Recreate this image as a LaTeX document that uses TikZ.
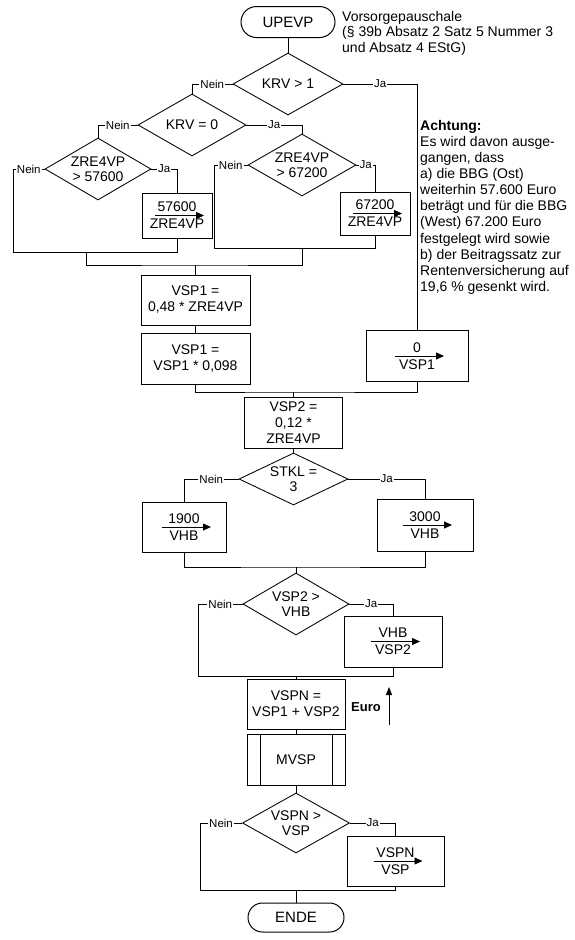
\documentclass[tikz,border=0pt]{standalone}
\usepackage{fontspec}
\setmainfont{Liberation Sans}
\usetikzlibrary{arrows.meta,shapes.geometric,shapes.misc}
\begin{document}
\begin{tikzpicture}[x=1pt,y=-1pt,
  every node/.style={font=\fontsize{14}{16}\selectfont},
  conn/.style={line width=0.85pt},
  proc/.style={draw,line width=1pt,inner sep=0pt,align=center},
  term/.style={draw,rounded rectangle,line width=1pt,inner sep=0pt,font=\fontsize{15}{17}\selectfont},
  dia/.style={draw,diamond,line width=0.85pt,inner sep=0pt},
  dtext/.style={align=center,inner sep=0pt,font=\fontsize{14}{15}\selectfont},
  lab/.style={fill=white,inner sep=1pt,font=\fontsize{11.5}{12}\selectfont},
  flowline/.style={line width=0.85pt,-{Triangle[length=8pt,width=7pt]}},
  note/.style={anchor=north west,inner sep=0pt,align=left}
]
\useasboundingbox (0,0) rectangle (575,940);

% start
\node[term,minimum width=94pt,minimum height=31pt] (start) at (288,22) {UPEVP};
\node[note,font=\fontsize{14}{15.5}\selectfont] (note1) at (342,11) {Vorsorgepauschale\\(§ 39b Absatz 2 Satz 5 Nummer 3\\und Absatz 4 EStG)};

% decisions top
\node[dia,minimum width=110pt,minimum height=62pt] (d1) at (288,84) {};
\node[dtext] at (d1) {KRV > 1};
\node[dia,minimum width=108pt,minimum height=62pt] (d2) at (192,125) {};
\node[dtext] at (d2) {KRV = 0};
\node[dia,minimum width=106pt,minimum height=62pt] (d3) at (98,169) {};
\node[dtext] at (d3) {ZRE4VP\\> 57600};
\node[dia,minimum width=108pt,minimum height=62pt] (d4) at (302,165) {};
\node[dtext] at (d4) {ZRE4VP\\> 67200};

% assignment boxes top
\node[proc,minimum width=70pt,minimum height=45pt] (b1) at (177,215.5) {57600\\[1pt]ZRE4VP};
\node[proc,minimum width=70pt,minimum height=43pt] (b2) at (375,213.5) {67200\\[1pt]ZRE4VP};
\node[proc,minimum width=102pt,minimum height=51pt] (v0) at (417,356) {0\\[1pt]VSP1};

\node[proc,minimum width=109pt,minimum height=50pt] (p1) at (195.5,300) {VSP1 =\\0,48 * ZRE4VP};
\node[proc,minimum width=109pt,minimum height=51pt] (p2) at (195.5,358.5) {VSP1 =\\VSP1 * 0,098};
\node[proc,minimum width=98pt,minimum height=51pt] (p3) at (293.5,422.5) {VSP2 =\\0,12 *\\ZRE4VP};

\node[dia,minimum width=109pt,minimum height=52pt] (d5) at (293.5,479) {};
\node[dtext] at (d5) {STKL =\\3};
\node[proc,minimum width=84pt,minimum height=50pt] (b3) at (184,527) {1900\\[1pt]VHB};
\node[proc,minimum width=96pt,minimum height=52pt] (b4) at (425,525) {3000\\[1pt]VHB};

\node[dia,minimum width=106pt,minimum height=62pt] (d6) at (296,604) {};
\node[dtext] at (d6) {VSP2 >\\VHB};
\node[proc,minimum width=98pt,minimum height=51pt] (b5) at (393,641.5) {VHB\\[1pt]VSP2};

\node[proc,minimum width=98pt,minimum height=50pt] (p4) at (296,704) {VSPN =\\VSP1 + VSP2};
\node[proc,minimum width=98pt,minimum height=51pt] (p5) at (296,759.5) {MVSP};
\node[dia,minimum width=107pt,minimum height=60pt] (d7) at (296,823) {};
\node[dtext] at (d7) {VSPN >\\VSP};
\node[proc,minimum width=97pt,minimum height=50pt] (b6) at (395.5,861) {VSPN\\[1pt]VSP};
\node[term,minimum width=96pt,minimum height=29pt] (ende) at (296,917.5) {ENDE};

\node[font=\bfseries\fontsize{13}{15}\selectfont,inner sep=0pt] (euro) at (366,707) {Euro};
\coordinate (e1) at (389,725);
\coordinate (e2) at (389,687);
\draw[conn,-{Triangle[length=8pt,width=6pt]}] (e1) -- (e2);

% MVSP inner lines
\draw[conn] ([xshift=14pt]p5.north west) -- ([xshift=14pt]p5.south west);
\draw[conn] ([xshift=-13pt]p5.north east) -- ([xshift=-13pt]p5.south east);

% arrows inside assignment boxes
\foreach \b in {b1,b2,v0,b3,b4,b5,b6}{
  \draw[flowline] ([xshift=-22pt]\b.center) -- ([xshift=27pt]\b.center);
}

% merge coordinates
\coordinate (j1L) at (13,252);
\coordinate (j1R) at (177,252);
\coordinate (j1M) at (86,252);
\coordinate (j2L) at (214,248);
\coordinate (j2R) at (375,248);
\coordinate (j2M) at (302,248);
\coordinate (k3) at (195.5,265);
\coordinate (m2) at (293.5,392);
\coordinate (m3) at (296,567);
\coordinate (m4L) at (198,676);
\coordinate (m4R) at (393,676);
\coordinate (m4) at (296,676);
\coordinate (m5L) at (200,890);
\coordinate (m5R) at (395.5,890);
\coordinate (m5) at (296,890);

% connectors
\draw[conn] (start.south) -- (d1.north);
\draw[conn] (d1.west) -| node[lab,pos=.25]{Nein} (d2.north);
\draw[conn] (d1.east) -| node[lab,pos=.25]{Ja} (v0.north);
\draw[conn] (d2.west) -| node[lab,pos=.25]{Nein} (d3.north);
\draw[conn] (d2.east) -| node[lab,pos=.25]{Ja} (d4.north);
\draw[conn] (d3.west) -| node[lab,pos=.25]{Nein} (j1L) -- (j1R) -- (b1.south);
\draw[conn] (d3.east) -| node[lab,pos=.25]{Ja} (b1.north);
\draw[conn] (d4.west) -| node[lab,pos=.25]{Nein} (j2L) -- (j2R) -- (b2.south);
\draw[conn] (d4.east) -| node[lab,pos=.25]{Ja} (b2.north);
\draw[conn] (j1M) |- (k3) -| (j2M);
\draw[conn] (k3) -- (p1.north);
\draw[conn] (p1.south) -- (p2.north);
\draw[conn] (p2.south) |- (m2) -| (v0.south);
\draw[conn] (m2) -- (p3.north);
\draw[conn] (p3.south) -- (d5.north);
\draw[conn] (d5.west) -| node[lab,pos=.25]{Nein} (b3.north);
\draw[conn] (d5.east) -| node[lab,pos=.25]{Ja} (b4.north);
\draw[conn] (b3.south) |- (m3) -| (b4.south);
\draw[conn] (m3) -- (d6.north);
\draw[conn] (d6.west) -| node[lab,pos=.25]{Nein} (m4L) -- (m4R) -- (b5.south);
\draw[conn] (d6.east) -| node[lab,pos=.25]{Ja} (b5.north);
\draw[conn] (m4) -- (p4.north);
\draw[conn] (p4.south) -- (p5.north);
\draw[conn] (p5.south) -- (d7.north);
\draw[conn] (d7.west) -| node[lab,pos=.25]{Nein} (m5L) -- (m5R) -- (b6.south);
\draw[conn] (d7.east) -| node[lab,pos=.25]{Ja} (b6.north);
\draw[conn] (m5) -- (ende.north);

% note
\node[note,font=\fontsize{14}{16.1}\selectfont] (note2) at (420,120) {\textbf{Achtung:}\\Es wird davon ausge-\\gangen, dass\\a) die BBG (Ost)\\weiterhin 57.600 Euro\\beträgt und für die BBG\\(West) 67.200 Euro\\festgelegt wird sowie\\b) der Beitragssatz zur\\Rentenversicherung auf\\19,6 \% gesenkt wird.};
\end{tikzpicture}
\end{document}
